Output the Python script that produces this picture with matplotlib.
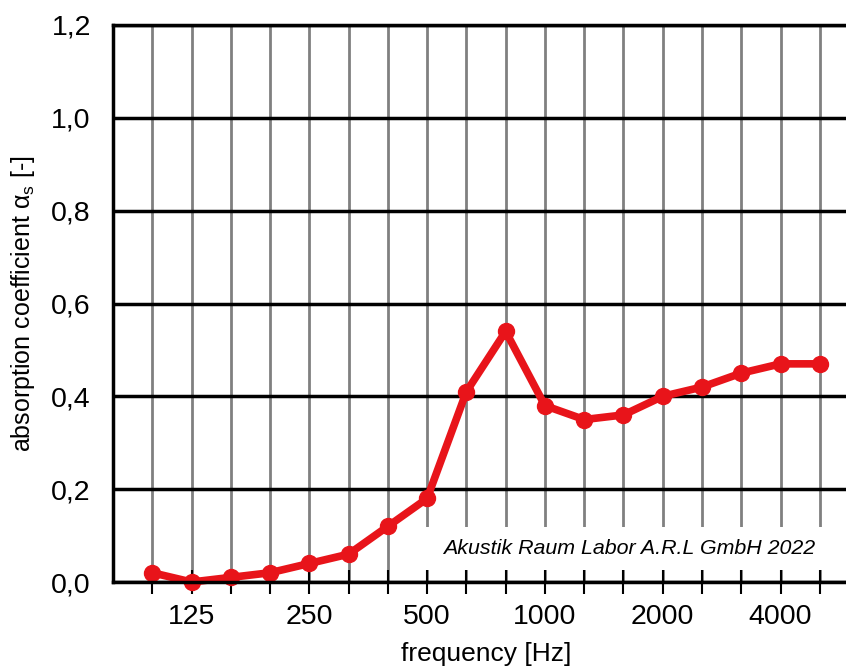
import numpy as np
import matplotlib
matplotlib.use("Agg")
import matplotlib.pyplot as plt
from matplotlib.patches import Rectangle

plt.rcParams['font.family'] = ['Liberation Sans', 'DejaVu Sans']
plt.rcParams['mathtext.fontset'] = 'custom'
plt.rcParams['mathtext.rm'] = 'Liberation Sans'

# third-octave bands (Hz) and measured absorption coefficient
bands = [100, 125, 160, 200, 250, 315, 400, 500, 630, 800,
         1000, 1250, 1600, 2000, 2500, 3150, 4000, 5000]
alpha_s = [0.02, 0.00, 0.01, 0.02, 0.04, 0.06, 0.12, 0.18, 0.41, 0.54,
           0.38, 0.35, 0.36, 0.40, 0.42, 0.45, 0.47, 0.47]
labelled = [125, 250, 500, 1000, 2000, 4000]
y_ticks = [0.0, 0.2, 0.4, 0.6, 0.8, 1.0, 1.2]
watermark = "Akustik Raum Labor A.R.L GmbH 2022"

fig = plt.figure(figsize=(8.46, 6.68), dpi=100)
ax = fig.add_axes([0.1336, 0.1287, 0.8818, 0.8339])

idx = np.arange(len(bands))
ax.set_xlim(-1, len(bands))
ax.set_ylim(0, 1.2)

# grid
for i in idx:
    ax.axvline(i, color='#808080', lw=2, zorder=1)
for y in y_ticks:
    ax.axhline(y, color='black', lw=2.5, zorder=2)

# white box behind the watermark
ax.add_patch(Rectangle((6.5, 0.026), 12, 0.093, facecolor='white',
                       edgecolor='none', zorder=3))
ax.text(12.15, 0.073, watermark, fontsize=15.4, style='italic',
        ha='center', va='center', zorder=4)

ax.plot(idx, alpha_s, color='#e8141a', lw=5.5, marker='o', ms=11.5,
        markeredgecolor='#e8141a', zorder=5, clip_on=False)

ax.set_xticks(idx)
ax.set_xticklabels([str(b) if b in labelled else '' for b in bands])
ax.tick_params(axis='x', direction='inout', length=17, width=1.5,
               color='black', labelsize=20.5, pad=7)
ax.set_yticks(y_ticks)
ax.set_yticklabels([f"{v:.1f}".replace('.', ',') for v in y_ticks])
ax.tick_params(axis='y', length=0, labelsize=20.5, pad=16)

for s in ['left', 'top', 'bottom']:
    ax.spines[s].set_linewidth(2.5)
    ax.spines[s].set_zorder(6)
ax.spines['right'].set_visible(False)

ax.set_xlabel('frequency [Hz]', fontsize=19, labelpad=9)
ax.set_ylabel(r'absorption coefficient α$_{\mathrm{s}}$ [-]', fontsize=18, labelpad=10)

fig.savefig('out.png', dpi=100)
